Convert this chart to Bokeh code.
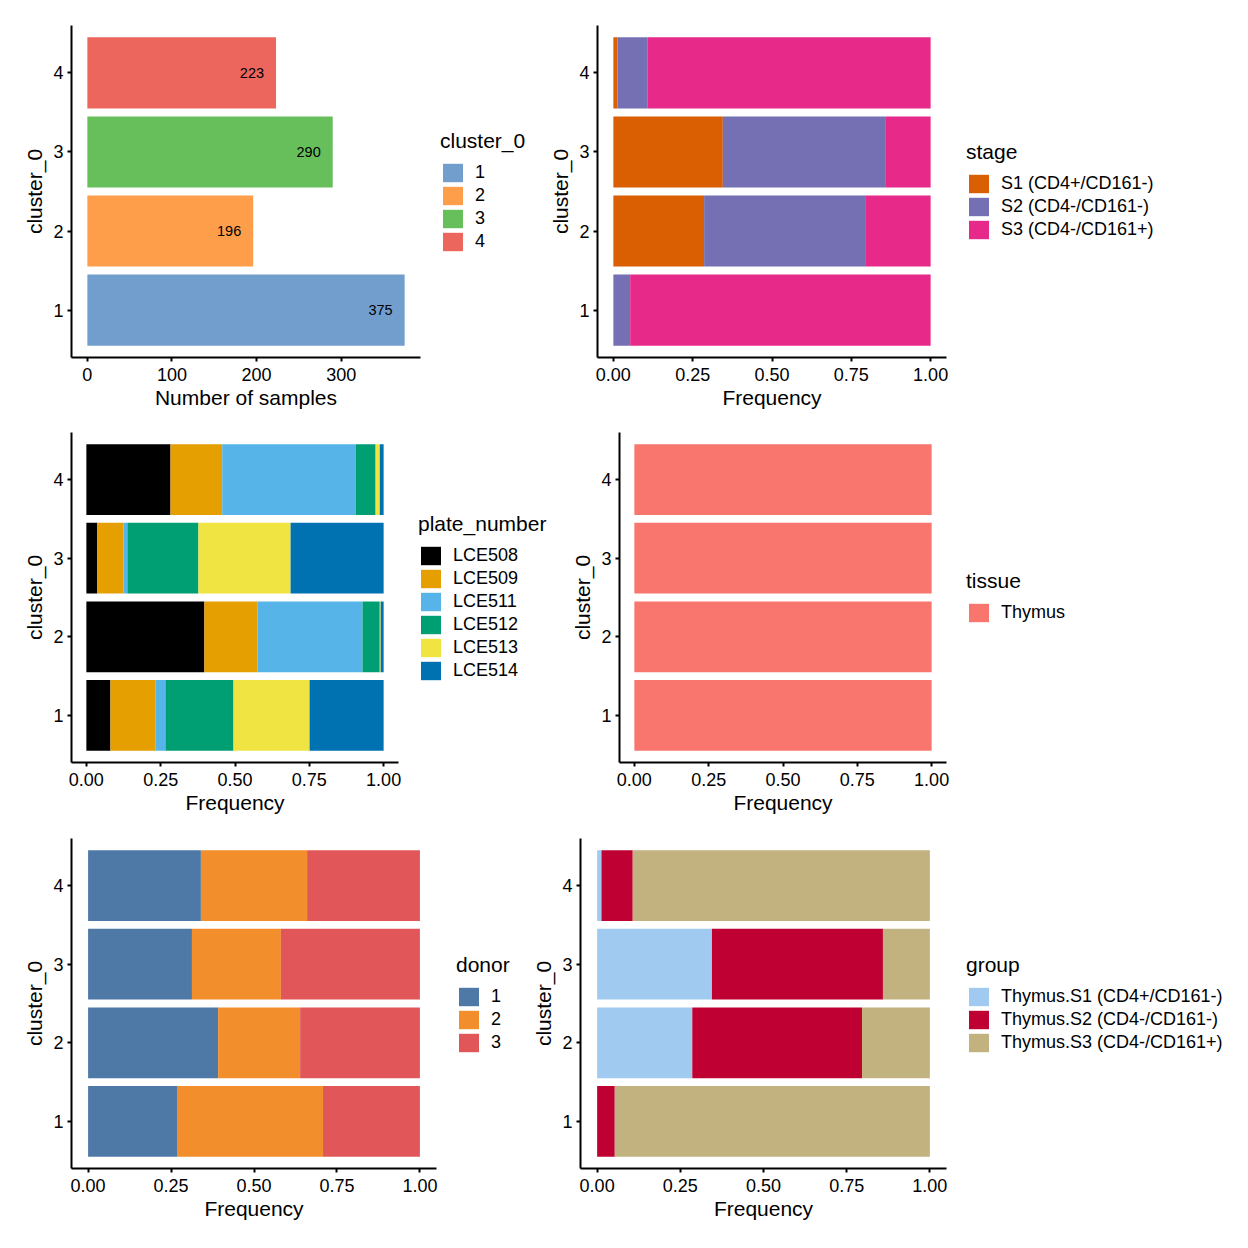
from bokeh.plotting import figure
from bokeh.models import (Range1d, FactorRange, FixedTicker, NumeralTickFormatter,
                          Legend, LegendItem, ColumnDataSource)
from bokeh.layouts import column, row
from bokeh.embed import file_html
from bokeh.resources import INLINE
from bokeh.core.properties import value

FONT = "Liberation Sans"

# ---------------- data ----------------
clusters = ["1", "2", "3", "4"]

# panel 1: number of samples per cluster
n_samples = [375, 196, 290, 223]
cluster_colors = ["#729ECE", "#FF9E4A", "#67BF5C", "#ED665D"]

# panel 2: stage frequency per cluster (clusters 1..4)
stage_levels = ["S1 (CD4+/CD161-)", "S2 (CD4-/CD161-)", "S3 (CD4-/CD161+)"]
stage_S1 = [0.000, 0.286, 0.345, 0.013]
stage_S2 = [0.053, 0.510, 0.514, 0.094]
stage_S3 = [0.947, 0.204, 0.141, 0.893]
stage_colors = ["#D95F02", "#7570B3", "#E7298A"]

# panel 3: plate_number frequency per cluster
plate_levels = ["LCE508", "LCE509", "LCE511", "LCE512", "LCE513", "LCE514"]
plate_LCE508 = [0.081, 0.397, 0.037, 0.283]
plate_LCE509 = [0.151, 0.179, 0.088, 0.174]
plate_LCE511 = [0.034, 0.353, 0.013, 0.449]
plate_LCE512 = [0.229, 0.058, 0.239, 0.067]
plate_LCE513 = [0.256, 0.003, 0.310, 0.014]
plate_LCE514 = [0.249, 0.010, 0.313, 0.013]
plate_colors = ["#000000", "#E69F00", "#56B4E9", "#009E73", "#F0E442", "#0072B2"]

# panel 4: tissue frequency per cluster
tissue_levels = ["Thymus"]
tissue_Thymus = [1.0, 1.0, 1.0, 1.0]
tissue_colors = ["#F8766D"]

# panel 5: donor frequency per cluster
donor_levels = ["1", "2", "3"]
donor_1 = [0.268, 0.392, 0.313, 0.340]
donor_2 = [0.440, 0.247, 0.268, 0.320]
donor_3 = [0.292, 0.361, 0.419, 0.340]
donor_colors = ["#4E79A7", "#F28E2B", "#E15759"]

# panel 6: group frequency per cluster
group_levels = ["Thymus.S1 (CD4+/CD161-)", "Thymus.S2 (CD4-/CD161-)", "Thymus.S3 (CD4-/CD161+)"]
group_S1 = [0.000, 0.286, 0.345, 0.013]
group_S2 = [0.053, 0.510, 0.514, 0.094]
group_S3 = [0.947, 0.204, 0.141, 0.893]
group_colors = ["#A1CAF1", "#BE0032", "#C2B280"]

freq_ticks = [0, 0.25, 0.5, 0.75, 1.0]
count_ticks = [0, 100, 200, 300]

# legend geometry (screen px)
LEG_TITLE_H = 24
LEG_STANDOFF = 8
LEG_ITEM_H = 23
RB = 10  # right border of each plot


def base_fig(width, height, left, top, bottom, x_range, ticks, fmt, xlabel):
    p = figure(width=width, height=height,
               y_range=FactorRange(factors=clusters, range_padding=0.1,
                                   range_padding_units="absolute"),
               x_range=x_range, output_backend="svg", toolbar_location=None, tools="",
               min_border_left=left, min_border_right=RB,
               min_border_top=top, min_border_bottom=bottom)
    p.outline_line_color = None
    p.xgrid.visible = False
    p.ygrid.visible = False
    p.background_fill_color = "white"
    p.border_fill_color = "white"
    p.xaxis.ticker = FixedTicker(ticks=ticks)
    p.xaxis.formatter = NumeralTickFormatter(format=fmt)
    p.xaxis.axis_label = xlabel
    p.yaxis.axis_label = "cluster_0"
    for ax in (p.xaxis[0], p.yaxis[0]):
        ax.axis_line_width = 2
        ax.axis_line_color = "black"
        ax.major_tick_line_width = 2
        ax.major_tick_line_color = "black"
        ax.major_tick_out = 4
        ax.major_tick_in = 0
        ax.minor_tick_line_color = None
        ax.major_label_text_font = FONT
        ax.major_label_text_font_size = "18px"
        ax.major_label_text_color = "black"
        ax.major_label_standoff = 4
        ax.axis_label_text_font = FONT
        ax.axis_label_text_font_size = "21px"
        ax.axis_label_text_font_style = "normal"
        ax.axis_label_text_color = "black"
        ax.axis_label_standoff = 4
    p.xaxis[0].major_label_standoff = 6
    p.xaxis[0].axis_label_standoff = 2
    return p


def legend_fig(width, height, top, bottom, title, levels, colors, source, keys=None):
    """A borderless figure that only carries the legend of the panel on its left.
    Its frame is aligned with the neighbouring plot's frame by the row layout."""
    q = figure(width=width, height=height, x_range=Range1d(0, 1),
               y_range=FactorRange(factors=clusters), x_axis_type=None, y_axis_type=None,
               output_backend="svg", toolbar_location=None, tools="",
               min_border_left=0, min_border_right=0,
               min_border_top=top, min_border_bottom=bottom)
    q.outline_line_color = None
    q.xgrid.visible = False
    q.ygrid.visible = False
    items = []
    if keys is None:
        r = q.hbar(y="cluster", left=0, right="n", height=0.9, fill_color="color",
                   line_color=None, source=source, visible=False)
        items = [LegendItem(label=lab, renderers=[r], index=i) for i, lab in enumerate(levels)]
    else:
        for lab, col, k in zip(levels, colors, keys):
            r = q.hbar(y="cluster", left=0, right=k, height=0.9, fill_color=col,
                       line_color=None, source=source, visible=False)
            items.append(LegendItem(label=lab, renderers=[r]))
    n = len(items)
    leg_h = LEG_TITLE_H + LEG_STANDOFF + n * LEG_ITEM_H
    frame_h = height - top - bottom
    loc = (10, int(round((frame_h - leg_h) / 2)))
    leg = Legend(items=items, title=title, location=loc, margin=0, padding=0,
                 border_line_color=None, background_fill_alpha=0,
                 inactive_fill_alpha=0, click_policy="none",
                 title_text_font=FONT, title_text_font_size="21px",
                 title_text_font_style="normal", title_text_color="black",
                 label_text_font=FONT, label_text_font_size="18px", label_text_color="black",
                 glyph_width=25, glyph_height=LEG_ITEM_H, label_height=LEG_ITEM_H,
                 label_standoff=10, spacing=0, title_standoff=LEG_STANDOFF)
    q.add_layout(leg, "center")
    return q


def stacked_panel(width, height, left, top, bottom, series, colors):
    p = base_fig(width, height, left, top, bottom, Range1d(-0.05, 1.05),
                 freq_ticks, "0.00", "Frequency")
    data = {"cluster": clusters}
    keys = []
    for i, s in enumerate(series):
        k = "s%d" % i
        data[k] = s
        keys.append(k)
    src = ColumnDataSource(data)
    p.hbar_stack(keys, y="cluster", height=0.9, fill_color=colors, line_color=None,
                 source=src)
    return p, src, keys


# ---------------- row 1 ----------------
RH1, T1, FH1 = 416, 25, 332
B1 = RH1 - T1 - FH1

p1 = base_fig(71 + 349 + RB, RH1, 71, T1, B1, Range1d(-18.75, 393.75), count_ticks, "0",
              "Number of samples")
src1 = ColumnDataSource(dict(cluster=clusters, n=n_samples, color=cluster_colors,
                             label=[str(v) for v in n_samples]))
p1.hbar(y="cluster", left=0, right="n", height=0.9, fill_color="color",
        line_color=None, source=src1)
p1.text(x="n", y="cluster", text="label", source=src1, x_offset=-12,
        text_align="right", text_baseline="middle", text_font=value(FONT),
        text_font_size="14.5px", text_color="black")
l1 = legend_fig(546 - 430, RH1, T1, B1, "cluster_0", clusters, cluster_colors, src1)

p2, src2, k2 = stacked_panel(51 + 349 + RB, RH1, 51, T1, B1,
                             [stage_S1, stage_S2, stage_S3], stage_colors)
l2 = legend_fig(290, RH1, T1, B1, "stage", stage_levels, stage_colors, src2, k2)

# ---------------- row 2 ----------------
RH2, T2, FH2 = 416, 16, 330
B2 = RH2 - T2 - FH2
p3, src3, k3 = stacked_panel(71 + 327 + RB, RH2, 71, T2, B2,
                             [plate_LCE508, plate_LCE509, plate_LCE511, plate_LCE512,
                              plate_LCE513, plate_LCE514], plate_colors)
l3 = legend_fig(568 - 408, RH2, T2, B2, "plate_number", plate_levels, plate_colors, src3, k3)
p4, src4, k4 = stacked_panel(51 + 327 + RB, RH2, 51, T2, B2, [tissue_Thymus], tissue_colors)
l4 = legend_fig(290, RH2, T2, B2, "tissue", tissue_levels, tissue_colors, src4, k4)

# ---------------- row 3 ----------------
RH3, T3, FH3 = 414, 6, 330
B3 = RH3 - T3 - FH3
p5, src5, k5 = stacked_panel(71 + 365 + RB, RH3, 71, T3, B3,
                             [donor_1, donor_2, donor_3], donor_colors)
l5 = legend_fig(529 - 446, RH3, T3, B3, "donor", donor_levels, donor_colors, src5, k5)
p6, src6, k6 = stacked_panel(51 + 366 + RB, RH3, 51, T3, B3,
                             [group_S1, group_S2, group_S3], group_colors)
l6 = legend_fig(290, RH3, T3, B3, "group", group_levels, group_colors, src6, k6)

layout = column(row(p1, l1, p2, l2), row(p3, l3, p4, l4), row(p5, l5, p6, l6))

open("out.html", "w").write(file_html(layout, INLINE))
